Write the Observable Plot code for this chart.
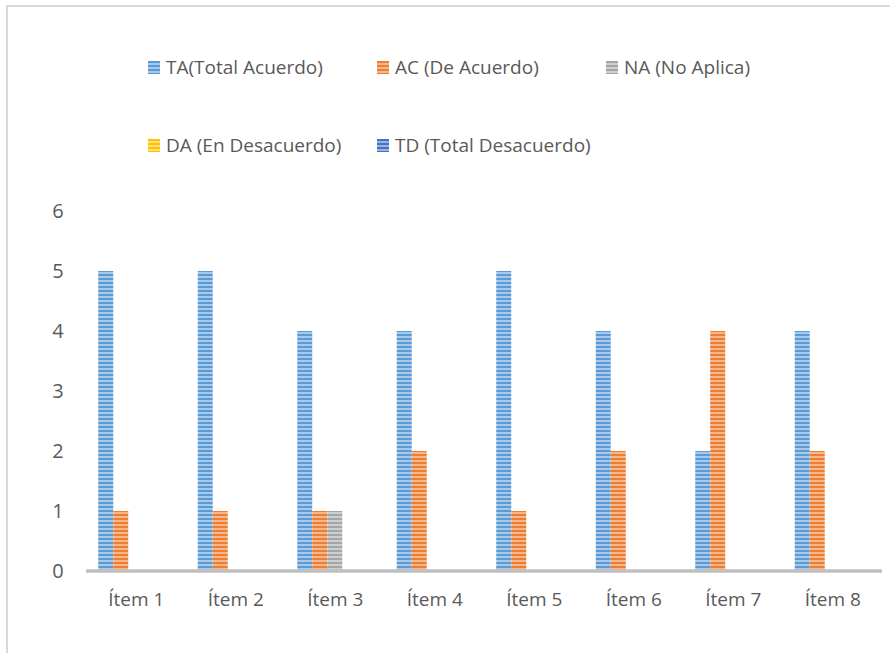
<!DOCTYPE html>
<html>
<head>
<meta charset="utf-8">
<script src="https://cdn.jsdelivr.net/npm/d3@7"></script>
<script src="https://cdn.jsdelivr.net/npm/@observablehq/plot@0.6"></script>
<style>
  html, body { margin: 0; padding: 0; background: #fff; overflow: hidden; }
  #wrap { position: relative; width: 890px; height: 653px; overflow: hidden; font-family: "Open Sans", sans-serif; color: #595959; }
  #frame { position: absolute; left: 6px; top: 5px; width: 1000px; height: 1000px; border: 2px solid #d9d9d9; box-sizing: border-box; }
  .leg { position: absolute; display: flex; align-items: center; font-size: 19px; white-space: nowrap; line-height: 1; }
  .sw { width: 12px; height: 13px; margin-right: 6px; }
  #chart { position: absolute; left: 0; top: 190px; }
</style>
</head>
<body>
<div id="wrap">
  <div id="frame"></div>
  <div id="legend"></div>
  <div id="chart"></div>
</div>
<script>
// ---- data ----
const items = ["Ítem 1", "Ítem 2", "Ítem 3", "Ítem 4", "Ítem 5", "Ítem 6", "Ítem 7", "Ítem 8"];
const series = ["TA(Total Acuerdo)", "AC (De Acuerdo)", "NA (No Aplica)", "DA (En Desacuerdo)", "TD (Total Desacuerdo)"];
const TA = [5, 5, 4, 4, 5, 4, 2, 4];
const AC = [1, 1, 1, 2, 1, 2, 4, 2];
const NA = [0, 0, 1, 0, 0, 0, 0, 0];
const DA = [0, 0, 0, 0, 0, 0, 0, 0];
const TD = [0, 0, 0, 0, 0, 0, 0, 0];
const yTicks = [0, 1, 2, 3, 4, 5, 6];

// ---- styles ----
const darkColors = ["#5b9bd5", "#ed7d31", "#a5a5a5", "#ffc000", "#4472c4"];
const lightColors = ["#a9c9ea", "#f6b78c", "#cfcfcf", "#ffdf80", "#9db4e0"];

const values = [TA, AC, NA, DA, TD];
const rows = [];
items.forEach((it, i) => series.forEach((s, j) => rows.push({item: it, series: s, value: values[j][i]})));

// legend
const legend = document.getElementById("legend");
const legendPos = [[148, 68], [377, 68], [606, 68], [148, 146], [377, 146]];
series.forEach((s, j) => {
  const d = document.createElement("div");
  d.className = "leg";
  d.style.left = legendPos[j][0] + "px";
  d.style.top = (legendPos[j][1] - 10) + "px";
  const sw = document.createElement("div");
  sw.className = "sw";
  sw.style.background = `repeating-linear-gradient(to bottom, ${darkColors[j]} 0px, ${darkColors[j]} 2px, ${lightColors[j]} 2px, ${lightColors[j]} 4px)`;
  const t = document.createElement("span");
  t.textContent = s;
  d.appendChild(sw); d.appendChild(t);
  legend.appendChild(d);
});

const urls = series.map((s, j) => `url(#pat${j})`);

const svg = Plot.plot({
  width: 890,
  height: 441,
  marginLeft: 86,
  marginRight: 8,
  marginTop: 21,
  marginBottom: 60,
  style: {fontFamily: "Open Sans, sans-serif", color: "#595959", background: "transparent"},
  fx: {domain: items, paddingInner: 0.246, paddingOuter: 0.123, round: false, label: null},
  x: {domain: series, padding: 0, round: false, axis: null},
  y: {domain: [0, 6], label: null},
  color: {domain: series, range: urls},
  marks: [
    Plot.barY(rows, {fx: "item", x: "series", y: "value", fill: "series"}),
    Plot.axisY({ticks: yTicks, tickFormat: "d", tickSize: 0, tickPadding: 35, fontSize: 20, label: null, fill: "#595959"}),
    Plot.axisFx({anchor: "bottom", tickSize: 0, tickPadding: 21, fontSize: 19, label: null, fill: "#595959"})
  ]
});

// stripe patterns
const ns = "http://www.w3.org/2000/svg";
const defs = document.createElementNS(ns, "defs");
darkColors.forEach((c, j) => {
  const p = document.createElementNS(ns, "pattern");
  p.setAttribute("id", "pat" + j);
  p.setAttribute("patternUnits", "userSpaceOnUse");
  p.setAttribute("width", "4");
  p.setAttribute("height", "4");
  const r1 = document.createElementNS(ns, "rect");
  r1.setAttribute("width", "4"); r1.setAttribute("height", "4"); r1.setAttribute("fill", lightColors[j]);
  const r2 = document.createElementNS(ns, "rect");
  r2.setAttribute("width", "4"); r2.setAttribute("height", "2"); r2.setAttribute("fill", c);
  p.appendChild(r1); p.appendChild(r2);
  defs.appendChild(p);
});
svg.insertBefore(defs, svg.firstChild);

// category-axis baseline at y = 0, spanning the fx scale's range
const fxRange = svg.scale("fx").range;
const y0 = svg.scale("y").apply(0);
const base = document.createElementNS(ns, "line");
base.setAttribute("x1", Math.min(...fxRange));
base.setAttribute("x2", Math.max(...fxRange));
base.setAttribute("y1", y0);
base.setAttribute("y2", y0);
base.setAttribute("stroke", "#bfbfbf");
base.setAttribute("stroke-width", "3.5");
svg.appendChild(base);
document.getElementById("chart").appendChild(svg);
</script>
</body>
</html>
